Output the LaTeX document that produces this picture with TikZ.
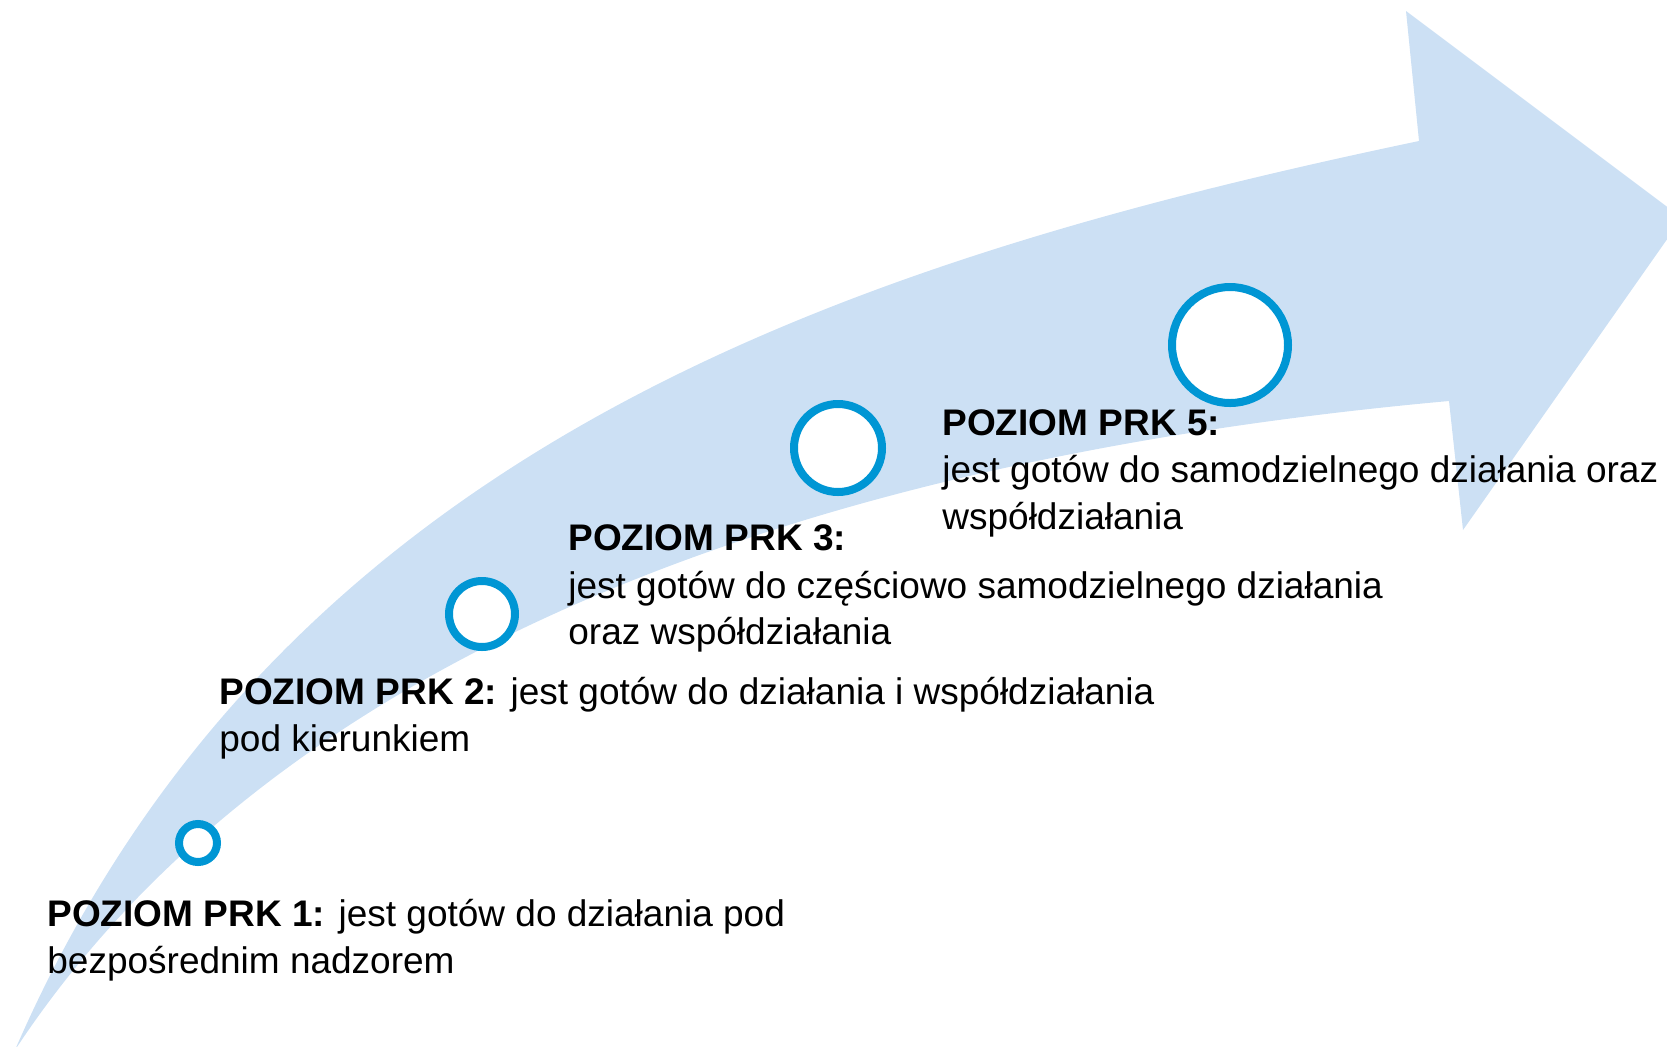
\documentclass[tikz,border=0pt]{standalone}
\usepackage{fontspec}
\setmainfont{Liberation Sans}
\usetikzlibrary{shadows}
\definecolor{arrowfill}{RGB}{204,224,244}
\definecolor{ringblue}{RGB}{0,150,212}
\begin{document}
\begin{tikzpicture}[x=0.5pt,y=-0.5pt,
  ring/.style={circle, draw=ringblue, line width=4pt, fill=white, inner sep=0pt,
    drop shadow={opacity=0.25, shadow xshift=0.6pt, shadow yshift=-1.4pt}},
  lbl/.style={anchor=base west, inner sep=0pt, font=\fontsize{18.5pt}{23.5pt}\selectfont, text=black}]
\useasboundingbox (0,0) rectangle (1667,1046);
\begin{scope}
\clip (0,0) rectangle (1667,1046);
\fill[arrowfill]
  (15,1050) .. controls (274,454) and (832,264) .. (1419,141)
  -- (1406,11) -- (1682,218) -- (1463,530) -- (1449,401)
  .. controls (851,455) and (290,632.5) .. (15,1050)
  -- cycle;
\end{scope}

\node[ring, minimum size=19pt] (c1) at (198,843) {};
\node[ring, minimum size=33pt] (c2) at (482,614) {};
\node[ring, minimum size=44pt] (c3) at (838,448) {};
\node[ring, minimum size=58pt] (c4) at (1230,345) {};

\node[lbl] (t1a) at (47,926) {\textbf{POZIOM PRK 1:} jest gotów do działania pod};
\node[lbl] (t1b) at (47,973) {bezpośrednim nadzorem};
\node[lbl] (t2a) at (219,704) {\textbf{POZIOM PRK 2:} jest gotów do działania i współdziałania};
\node[lbl] (t2b) at (219,751) {pod kierunkiem};
\node[lbl] (t3a) at (568,550) {\textbf{POZIOM PRK 3:}};
\node[lbl] (t3b) at (568,598) {jest gotów do częściowo samodzielnego działania};
\node[lbl] (t3c) at (568,644) {oraz współdziałania};
\node[lbl] (t5a) at (942,435) {\textbf{POZIOM PRK 5:}};
\node[lbl] (t5b) at (942,482) {jest gotów do samodzielnego działania oraz};
\node[lbl] (t5c) at (942,529) {współdziałania};
\end{tikzpicture}
\end{document}
